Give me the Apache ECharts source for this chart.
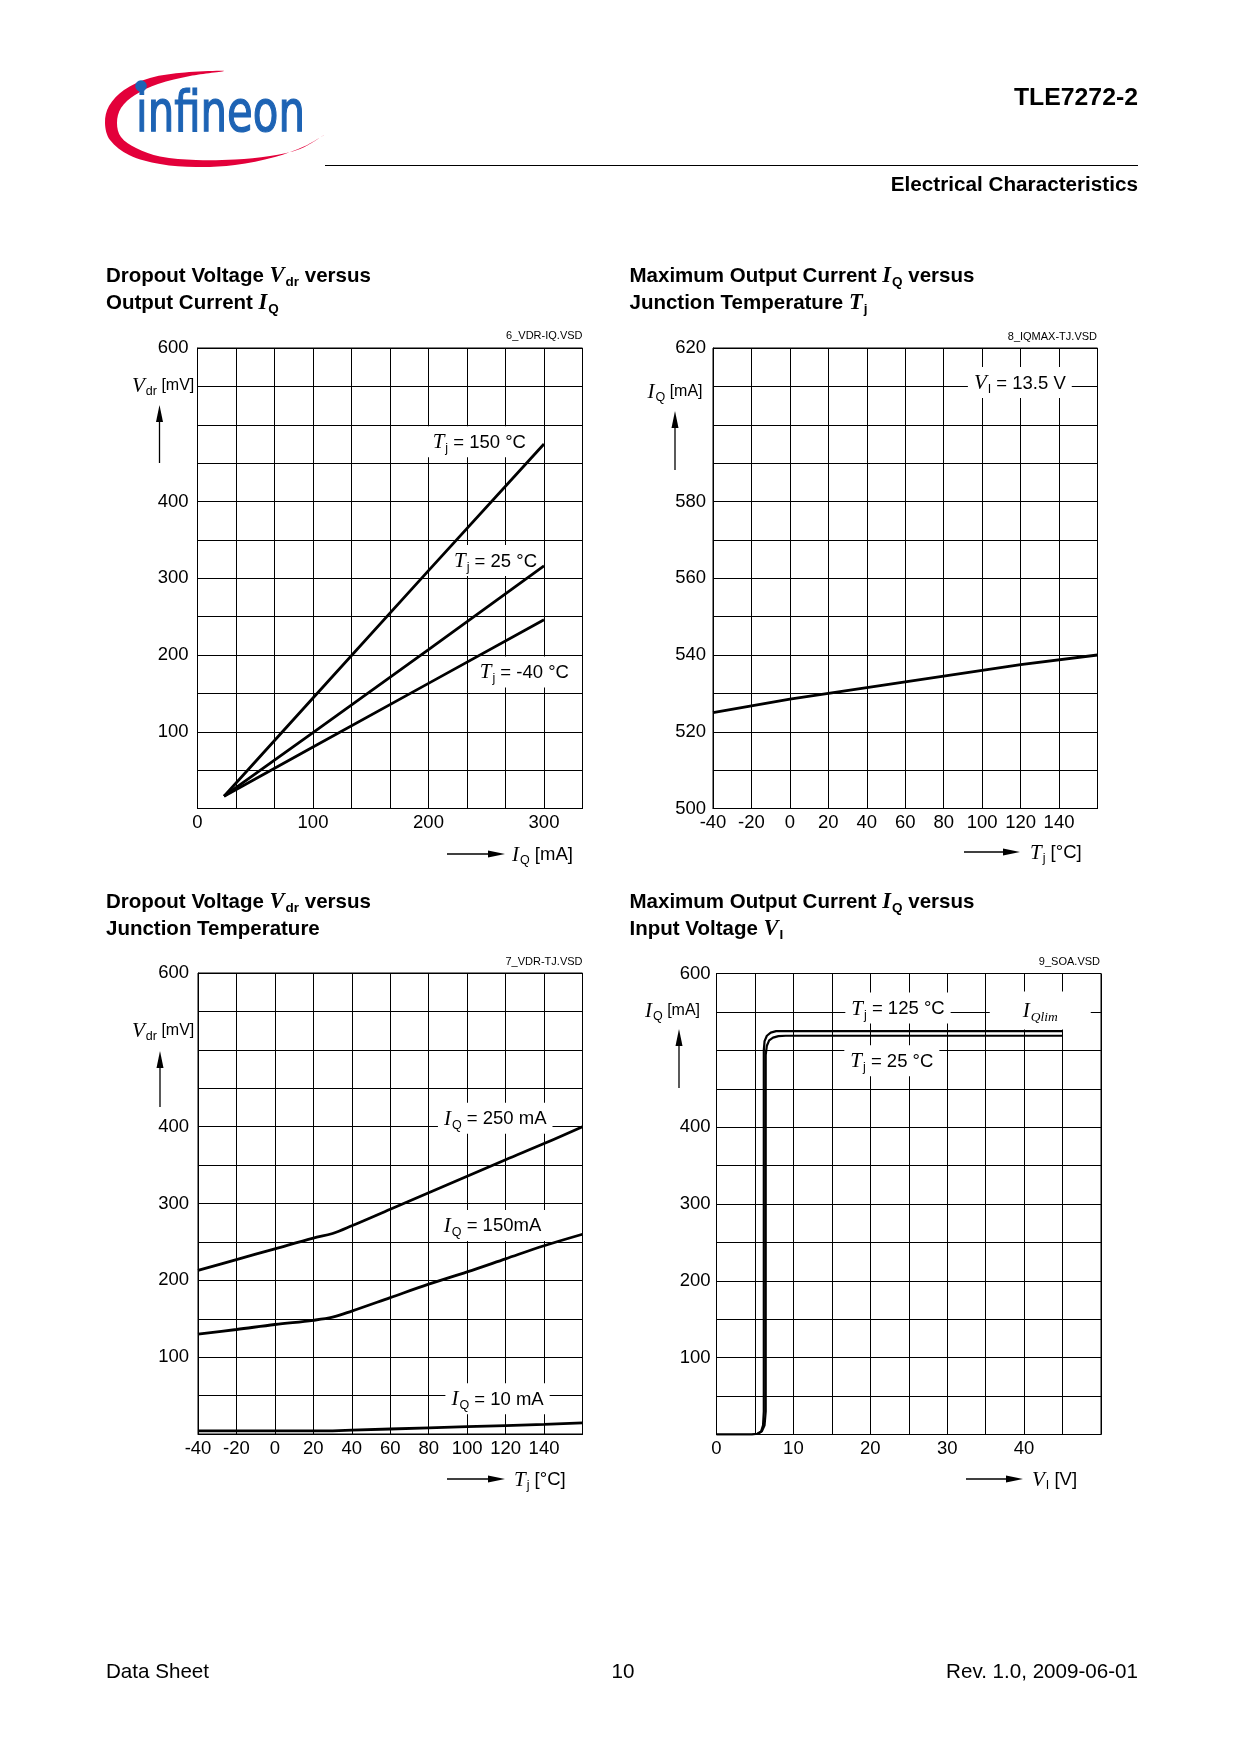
<!DOCTYPE html>
<html><head><meta charset="utf-8">
<script src="https://cdn.jsdelivr.net/npm/echarts@6/dist/echarts.min.js"></script>
<style>html,body{margin:0;padding:0;background:#fff}#c{width:1240px;height:1754px}</style>
</head><body><div id="c"></div>
<script>
// ================= DATA =================
// Chart 1: Dropout voltage vs output current
const c1Current = [23, 100, 200, 300];
const c1Vdr150 = [16, 144, 310, 475];
const c1Vdr25 = [16, 99, 207, 316];
const c1VdrM40 = [16, 80, 163, 246];
const c1XTicks = ['0', '100', '200', '300'];
const c1YTicks = ['100', '200', '300', '400', '600'];

// Chart 2: Max output current vs junction temperature
const c2Temp = [-40, 0, 40, 80, 120, 160];
const c2Iq = [525, 528.5, 531.5, 534.5, 537.5, 540];
const c2XTicks = ['-40', '-20', '0', '20', '40', '60', '80', '100', '120', '140'];
const c2YTicks = ['500', '520', '540', '560', '580', '620'];

// Chart 3: Dropout voltage vs junction temperature
const c3Temp = [-40, -20, 0, 20, 30, 40, 60, 80, 100, 120, 140, 160];
const c3Vdr250 = [213, 227, 241, 255, 261, 271, 292.5, 314, 335.5, 357, 378, 400];
const c3Vdr150 = [130, 136, 142.5, 148, 152, 160, 177.5, 195, 211, 228, 245, 260];
const c3Vdr10 = [4, 4, 4, 4, 4, 5, 6.5, 8, 9.5, 11, 12.5, 14.5];
const c3XTicks = ['-40', '-20', '0', '20', '40', '60', '80', '100', '120', '140'];
const c3YTicks = ['100', '200', '300', '400', '600'];

// Chart 4: Max output current vs input voltage
const c4Vi125 = [0, 4.6, 5.3, 5.8, 6.05, 6.15, 6.15, 6.25, 6.55, 7.05, 7.75, 8.6, 45];
const c4Iq125 = [0, 0, 1, 4, 12, 30, 500, 512, 519, 523, 525, 525, 525];
const c4Vi25 = [0, 4.6, 5.4, 5.9, 6.25, 6.4, 6.4, 6.55, 6.85, 7.35, 8.05, 9.0, 45];
const c4Iq25 = [0, 0, 1, 4, 12, 30, 494, 506, 513, 516.5, 518.5, 519, 519];
const c4XTicks = ['0', '10', '20', '30', '40'];
const c4YTicks = ['100', '200', '300', '400', '600'];

// Annotation labels (data coordinates)
const c1Notes = [
  { at: [244, 478], text: '{it|T}{sub|j}{n| = 150 °C}' },
  { at: [258, 323], text: '{it|T}{sub|j}{n| = 25 °C}' },
  { at: [283, 178], text: '{it|T}{sub|j}{n| = -40 °C}' }
];
const c2Notes = [
  { at: [119.6, 611], text: '{it|V}{sub|I}{n| = 13.5 V}' }
];
const c3Notes = [
  { at: [114.6, 411], text: '{it|I}{sub|Q}{n| = 250 mA}' },
  { at: [113.2, 271.5], text: '{it|I}{sub|Q}{n| = 150mA}' },
  { at: [115.8, 46], text: '{it|I}{sub|Q}{n| = 10 mA}' }
];
const c4Notes = [
  { at: [23.6, 555], text: '{it|T}{sub|j}{n| = 125 °C}' },
  { at: [22.8, 486.5], text: '{it|T}{sub|j}{n| = 25 °C}' },
  { at: [42.1, 551.8], text: '{it|I}{itsub|Qlim}', wide: true }
];

// ================= LAYOUT / STYLE =================
const SANS = "'Liberation Sans', Arial, Helvetica, sans-serif";
const SERIF = "'Liberation Serif', 'Times New Roman', serif";
const G = [
  { left: 197.5, top: 348, width: 385, height: 460.5 },
  { left: 713, top: 348, width: 384.5, height: 460.5 },
  { left: 198, top: 973, width: 384.5, height: 461 },
  { left: 716.5, top: 973.5, width: 384.5, height: 461 }
];

const RICH_NOTE = {
  it: { fontFamily: SERIF, fontStyle: 'italic', fontSize: 21, color: '#000' },
  sub: { fontFamily: SANS, fontSize: 12.5, color: '#000', padding: [12, 0, 0, 1] },
  itsub: { fontFamily: SERIF, fontStyle: 'italic', fontSize: 13.5, color: '#000', padding: [12, 0, 0, 1] },
  n: { fontFamily: SANS, fontSize: 18.5, color: '#000' }
};

function tickFmt(list) {
  return function (v) {
    const r = Math.round(v);
    return (Math.abs(v - r) < 1e-6 && list.indexOf(String(r)) >= 0) ? String(r) : '';
  };
}
function mkX(i, min, max, interval, ticks) {
  return {
    type: 'value', gridIndex: i, min: min, max: max, interval: interval,
    axisLine: { show: true, onZero: false, lineStyle: { color: '#000', width: 1 } },
    axisTick: { show: false },
    splitLine: { show: true, lineStyle: { color: '#000', width: 1 } },
    axisLabel: { show: true, color: '#000', fontFamily: SANS, fontSize: 18.5, margin: 5,
      formatter: tickFmt(ticks), showMinLabel: true, showMaxLabel: true, hideOverlap: false }
  };
}
function mkY(i, min, max, interval, ticks, margin) {
  return {
    type: 'value', gridIndex: i, min: min, max: max, interval: interval,
    axisLine: { show: true, onZero: false, lineStyle: { color: '#000', width: 1 } },
    axisTick: { show: false },
    splitLine: { show: true, lineStyle: { color: '#000', width: 1 } },
    axisLabel: { show: true, color: '#000', fontFamily: SANS, fontSize: 18.5, margin: margin,
      formatter: tickFmt(ticks), showMinLabel: true, showMaxLabel: true, hideOverlap: false }
  };
}
function zip(a, b) { return a.map((x, k) => [x, b[k]]); }
function curve(i, xs, ys, w, smooth) {
  return {
    type: 'line', xAxisIndex: i, yAxisIndex: i, data: zip(xs, ys),
    showSymbol: false, symbol: 'none', smooth: smooth || false, zlevel: 1, z: 5, silent: true,
    lineStyle: { color: '#000', width: w, opacity: 1 }, clip: true
  };
}
function notes(i, list) {
  return {
    type: 'scatter', xAxisIndex: i, yAxisIndex: i, symbolSize: 0, zlevel: 1, z: 3, silent: true,
    itemStyle: { opacity: 1 },
    data: list.map(n => ({
      value: n.at, text: n.text,
      label: n.wide ? { padding: [7, 33, 5, 33] } : {}
    })),
    label: {
      show: true, position: 'inside', opacity: 1, color: '#000', backgroundColor: '#fff', padding: [4, 6, 2, 6],
      formatter: p => p.data.text, rich: RICH_NOTE
    }
  };
}

// ---- graphic helpers ----
const gfx = [];
function txt(x, y, text, opt) {
  gfx.push({ type: 'text', x: x, y: y, silent: true, z: 10, style: Object.assign({
    text: text, fill: '#000', font: '18.5px ' + SANS, align: 'left', verticalAlign: 'middle'
  }, opt || {}) });
}
function hArrow(x1, x2, y) {
  gfx.push({ type: 'line', silent: true, shape: { x1: x1, y1: y, x2: x2 - 12, y2: y }, style: { stroke: '#000', lineWidth: 1.3 } });
  gfx.push({ type: 'polygon', silent: true, shape: { points: [[x2, y], [x2 - 17, y - 3.5], [x2 - 17, y + 3.5]] }, style: { fill: '#000' } });
}
function vArrow(x, yTail, yTip) {
  gfx.push({ type: 'line', silent: true, shape: { x1: x, y1: yTail, x2: x, y2: yTip + 12 }, style: { stroke: '#000', lineWidth: 1.3 } });
  gfx.push({ type: 'polygon', silent: true, shape: { points: [[x, yTip], [x - 3.5, yTip + 17], [x + 3.5, yTip + 17]] }, style: { fill: '#000' } });
}
const RICH_NAME = {
  it: { fontFamily: SERIF, fontStyle: 'italic', fontSize: 21 },
  sub: { fontFamily: SANS, fontSize: 12.5, padding: [12, 0, 0, 1] },
  n: { fontFamily: SANS, fontSize: 16 },
  nx: { fontFamily: SANS, fontSize: 18.5 }
};
const RICH_TITLE = {
  b: { fontFamily: SANS, fontWeight: 'bold', fontSize: 20.5 },
  it: { fontFamily: SERIF, fontStyle: 'italic', fontWeight: 'bold', fontSize: 22.5 },
  sub: { fontFamily: SANS, fontWeight: 'bold', fontSize: 13.5, padding: [12, 0, 0, 1] }
};

// ---- logo ----
gfx.push({ type: 'polygon', silent: true, shape: { smooth: 0.35, points: [
  [224, 71], [185, 72.5], [150, 78], [124, 90], [109, 106], [105, 123], [110, 140], [129, 155],
  [160, 164], [196, 167], [235, 165], [275, 157], [305, 146], [324, 135],
  [300, 149], [270, 156], [235, 159.5], [196, 160], [160, 156.5], [136, 148], [121, 137],
  [117, 123], [121, 108], [135, 95], [158, 84], [190, 76]
] }, style: { fill: '#e3003a' } });
(function () {
  const f = "57px 'Liberation Sans Narrow', 'DejaVu Sans Condensed', 'Liberation Sans', sans-serif";
  const cv = document.createElement('canvas').getContext('2d');
  cv.font = f;
  const w = cv.measureText('infineon').width || 169;
  gfx.push({ type: 'text', x: 136, y: 116, scaleX: 169 / w, silent: true, z: 10,
    style: { text: 'infineon', font: f, fill: '#1d63b4', align: 'left', verticalAlign: 'middle',
      stroke: '#1d63b4', lineWidth: 1.2 } });
})();
gfx.push({ type: 'circle', silent: true, z: 11, shape: { cx: 141, cy: 86, r: 5.8 }, style: { fill: '#1d63b4' } });

// ---- header / footer ----
txt(1138, 98, 'TLE7272-2', { font: 'bold 24.8px ' + SANS, align: 'right' });
gfx.push({ type: 'line', silent: true, shape: { x1: 325, y1: 165.5, x2: 1138, y2: 165.5 }, style: { stroke: '#000', lineWidth: 1.2 } });
txt(1138, 185.5, 'Electrical Characteristics', { font: 'bold 20.7px ' + SANS, align: 'right' });
txt(106, 1672.5, 'Data Sheet', { font: '20.6px ' + SANS });
txt(623, 1672.5, '10', { font: '20.6px ' + SANS, align: 'center' });
txt(1138, 1672.5, 'Rev. 1.0, 2009-06-01', { font: '20.6px ' + SANS, align: 'right' });

// ---- chart titles ----
txt(106, 276, '{b|Dropout Voltage }{it|V}{sub|dr}{b| versus}', { rich: RICH_TITLE });
txt(106, 303, '{b|Output Current }{it|I}{sub|Q}', { rich: RICH_TITLE });
txt(629.5, 276, '{b|Maximum Output Current }{it|I}{sub|Q}{b| versus}', { rich: RICH_TITLE });
txt(629.5, 303, '{b|Junction Temperature }{it|T}{sub|j}', { rich: RICH_TITLE });
txt(106, 902, '{b|Dropout Voltage }{it|V}{sub|dr}{b| versus}', { rich: RICH_TITLE });
txt(106, 929, '{b|Junction Temperature}', { rich: RICH_TITLE });
txt(629.5, 902, '{b|Maximum Output Current }{it|I}{sub|Q}{b| versus}', { rich: RICH_TITLE });
txt(629.5, 929, '{b|Input Voltage }{it|V}{sub|I}', { rich: RICH_TITLE });

// ---- file tags ----
txt(582.5, 336, '6_VDR-IQ.VSD', { font: '11px ' + SANS, align: 'right' });
txt(1097, 337, '8_IQMAX-TJ.VSD', { font: '11px ' + SANS, align: 'right' });
txt(582.5, 962, '7_VDR-TJ.VSD', { font: '11px ' + SANS, align: 'right' });
txt(1100, 962, '9_SOA.VSD', { font: '11px ' + SANS, align: 'right' });

// ---- axis names ----
txt(132, 386, '{it|V}{sub|dr}{n| [mV]}', { rich: RICH_NAME }); vArrow(159.5, 463, 405);
txt(647.5, 392, '{it|I}{sub|Q}{n| [mA]}', { rich: RICH_NAME }); vArrow(675, 470, 411);
txt(132, 1031, '{it|V}{sub|dr}{n| [mV]}', { rich: RICH_NAME }); vArrow(160, 1107, 1051);
txt(645, 1011, '{it|I}{sub|Q}{n| [mA]}', { rich: RICH_NAME }); vArrow(679, 1088, 1029);

hArrow(447, 505, 854); txt(512, 855, '{it|I}{sub|Q}{nx| [mA]}', { rich: RICH_NAME });
hArrow(964, 1020, 852); txt(1030, 853, '{it|T}{sub|j}{nx| [°C]}', { rich: RICH_NAME });
hArrow(447, 505, 1479); txt(514, 1480, '{it|T}{sub|j}{nx| [°C]}', { rich: RICH_NAME });
hArrow(966, 1023, 1479); txt(1032, 1480, '{it|V}{sub|I}{nx| [V]}', { rich: RICH_NAME });

// ================= CHART =================
const chart = echarts.init(document.getElementById('c'), null, { renderer: 'canvas', width: 1240, height: 1754 });
chart.setOption({
  animation: false,
  backgroundColor: '#fff',
  grid: G.map(g => ({ left: g.left, top: g.top, width: g.width, height: g.height, show: true,
    borderColor: '#000', borderWidth: 1, backgroundColor: 'transparent', containLabel: false })),
  xAxis: [
    mkX(0, 0, 1000 / 3, 100 / 3, c1XTicks),
    mkX(1, -40, 160, 20, c2XTicks),
    mkX(2, -40, 160, 20, c3XTicks),
    mkX(3, 0, 50, 5, c4XTicks)
  ],
  yAxis: [
    mkY(0, 0, 600, 50, c1YTicks, 9),
    mkY(1, 500, 620, 10, c2YTicks, 7),
    mkY(2, 0, 600, 50, c3YTicks, 9),
    mkY(3, 0, 600, 50, c4YTicks, 6)
  ],
  series: [
    curve(0, c1Current, c1Vdr150, 2.8),
    curve(0, c1Current, c1Vdr25, 2.8),
    curve(0, c1Current, c1VdrM40, 2.8),
    notes(0, c1Notes),
    curve(1, c2Temp, c2Iq, 2.8),
    notes(1, c2Notes),
    curve(2, c3Temp, c3Vdr250, 2.8, 0.35),
    curve(2, c3Temp, c3Vdr150, 2.8, 0.35),
    curve(2, c3Temp, c3Vdr10, 2.8),
    notes(2, c3Notes),
    curve(3, c4Vi125, c4Iq125, 2.2),
    curve(3, c4Vi25, c4Iq25, 2.2),
    notes(3, c4Notes)
  ],
  graphic: gfx
});
</script>
</body></html>
